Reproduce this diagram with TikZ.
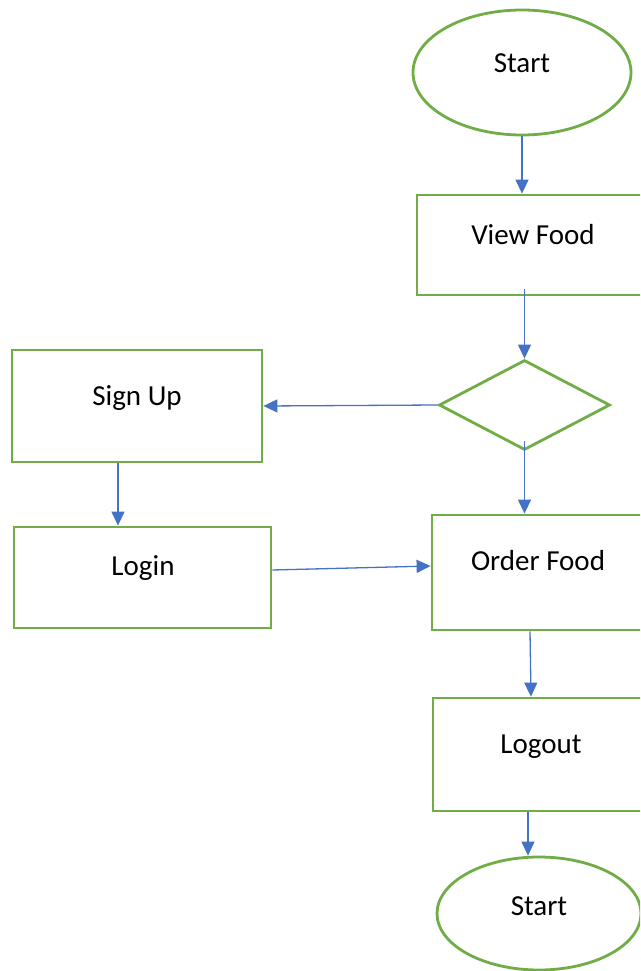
\documentclass[tikz,border=0pt]{standalone}
\usepackage{fontspec}
\setmainfont{Carlito}
\usetikzlibrary{shapes.geometric,arrows.meta}
\definecolor{gframe}{HTML}{70AD47}
\definecolor{barrow}{HTML}{4472C4}
\tikzset{
  boxsty/.style={draw=gframe, line width=2.8pt, rectangle, inner sep=0pt},
  ellsty/.style={draw=gframe, line width=2.8pt, ellipse, inner sep=0pt},
  diasty/.style={draw=gframe, line width=2.8pt, diamond, inner sep=0pt},
  txt/.style={anchor=base, inner sep=0pt, font=\fontsize{29}{33}\selectfont},
  conn/.style={draw=barrow, line width=1.3pt, -{Triangle[length=14pt,width=13pt]}},
}
\begin{document}
\begin{tikzpicture}[x=1pt,y=-1pt]
\useasboundingbox (0,0) rectangle (640,971);
\clip (0,0) rectangle (640,971);
% shapes
\node[ellsty, minimum width=218pt, minimum height=125pt] (start) at (522,72.5) {};
\node[boxsty, minimum width=243pt, minimum height=100pt] (view) at (538.5,245) {};
\node[diasty, minimum width=171pt, minimum height=90pt] (dia) at (524.5,405) {};
\node[boxsty, minimum width=250pt, minimum height=112pt] (signup) at (137,406) {};
\node[boxsty, minimum width=257pt, minimum height=101pt] (login) at (142.5,577.5) {};
\node[boxsty, minimum width=228pt, minimum height=115pt] (order) at (546,572.5) {};
\node[boxsty, minimum width=227pt, minimum height=113pt] (logout) at (546.5,754.5) {};
\node[ellsty, minimum width=204pt, minimum height=113pt] (finish) at (539,913.5) {};
% texts
\node[txt] (tstart) at (522,72.5) {Start};
\node[txt] (tview) at (533,244) {View Food};
\node[txt] (tsignup) at (137,405) {Sign Up};
\node[txt] (tlogin) at (143,575) {Login};
\node[txt] (torder) at (538,570) {Order Food};
\node[txt] (tlogout) at (541,753) {Logout};
\node[txt] (tfinish) at (539,915) {Start};
% connectors
\draw[conn] (start.south) -- (start.south |- view.north);
\draw[conn] ([yshift=7pt]view.south -| dia.north) -- (dia.north);
\draw[conn] (dia.west) -- (signup.east);
\draw[conn] ([yshift=10pt]dia.south) -- (dia.south |- order.north);
\draw[conn] ([xshift=-19pt]signup.south) -- ([xshift=-19pt]signup.south |- login.north);
\draw[conn] ([yshift=7.5pt]login.east) -- ([yshift=6.5pt]order.west);
\draw[conn] ([xshift=-16pt]order.south) -- ([xshift=-15.5pt]logout.north);
\draw[conn] ([xshift=-18.5pt]logout.south) -- ([xshift=-18.5pt]logout.south |- finish.north);
\end{tikzpicture}
\end{document}
